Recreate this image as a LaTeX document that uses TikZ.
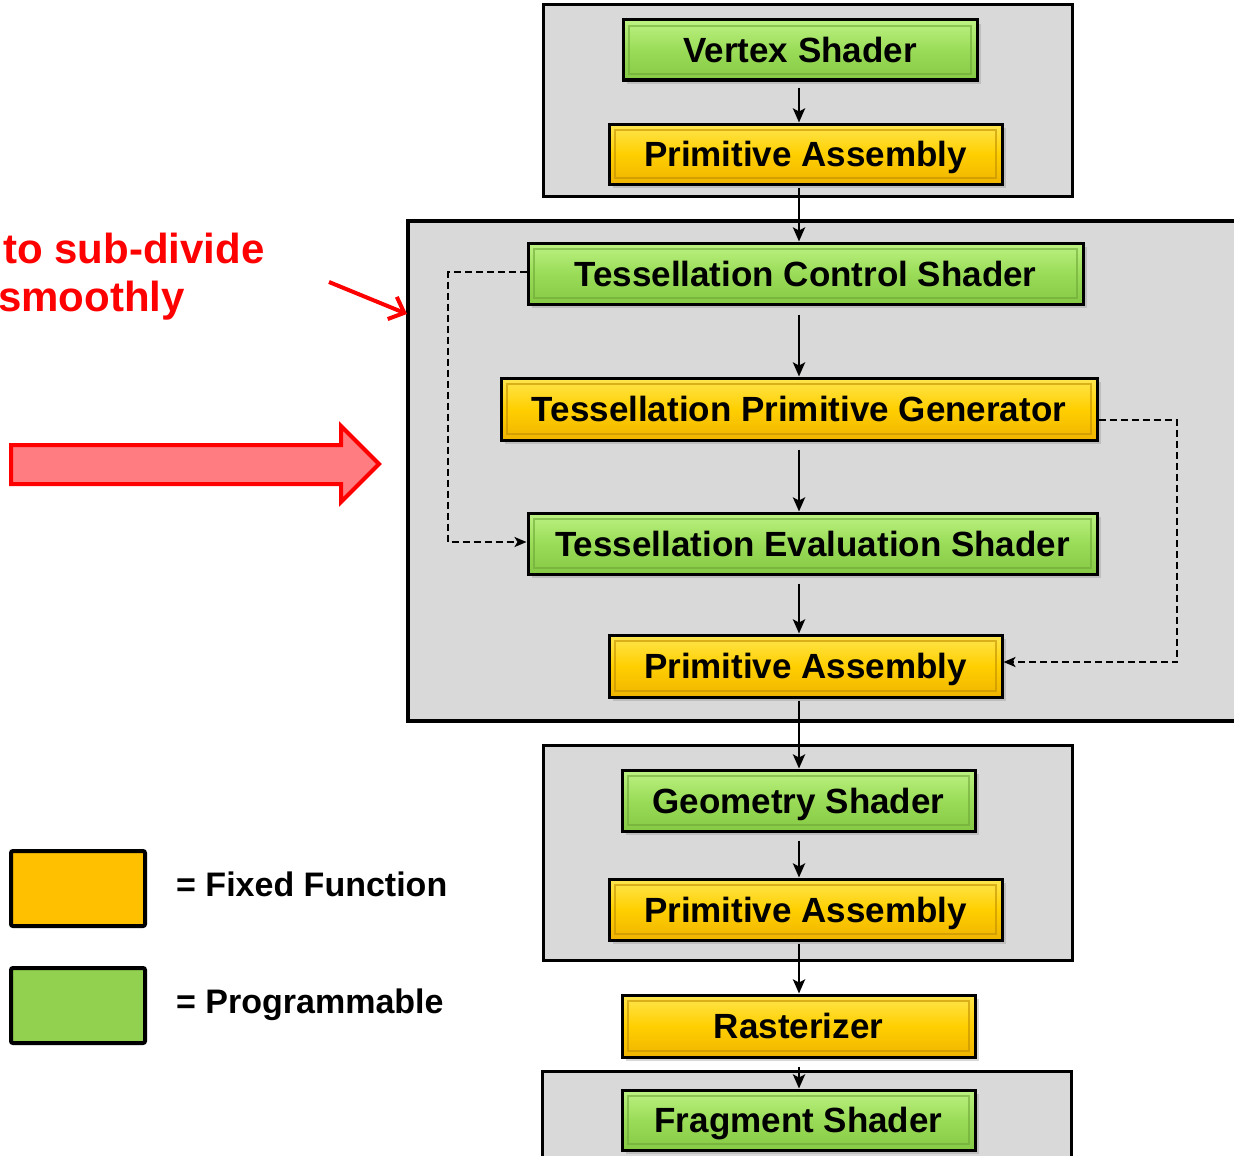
\documentclass[tikz,border=0pt]{standalone}
\usepackage{fontspec}
\setmainfont{Liberation Sans}
\usetikzlibrary{arrows.meta,shadows}
\definecolor{gfill}{HTML}{9ADC58}
\definecolor{gtop}{HTML}{BDF283}
\definecolor{gbot}{HTML}{86C944}
\definecolor{gbev}{HTML}{6FA838}
\definecolor{yfill}{HTML}{FFCF00}
\definecolor{ytop}{HTML}{FFE650}
\definecolor{ybot}{HTML}{F0B400}
\definecolor{ybev}{HTML}{C08E00}
\definecolor{panel}{HTML}{D9D9D9}
\definecolor{legy}{HTML}{FFC000}
\definecolor{legg}{HTML}{92D050}
\definecolor{redfill}{HTML}{FF7C80}
\definecolor{myred}{HTML}{FF0000}
\newcommand\stagefont{\fontsize{35}{40}\selectfont\bfseries}
\tikzset{
  stagebox/.style={draw=black, line width=3pt, inner sep=0pt,
    text height=25pt, text depth=0pt, font=\stagefont,
    drop shadow={shadow xshift=4pt, shadow yshift=-4pt, opacity=0.3}},
  prog/.style={stagebox, top color=gtop, bottom color=gbot, middle color=gfill,
    path picture={\draw[gbev, line width=1.2pt, opacity=0.6]
      ([shift={(6pt,-6pt)}]path picture bounding box.north west) rectangle
      ([shift={(-6pt,6pt)}]path picture bounding box.south east);}},
  fixed/.style={stagebox, top color=ytop, bottom color=ybot, middle color=yfill,
    path picture={\draw[ybev, line width=1.2pt, opacity=0.6]
      ([shift={(6pt,-6pt)}]path picture bounding box.north west) rectangle
      ([shift={(-6pt,6pt)}]path picture bounding box.south east);}},
  panelbox/.style={draw=black, fill=panel, line width=3pt, inner sep=0pt},
  flow/.style={line width=2.8pt, -{Stealth[length=14pt,width=12pt,inset=3pt]}, shorten <=6pt},
  dashflow/.style={line width=2.4pt, dash pattern=on 7pt off 4pt, -{Stealth[length=12pt,width=10pt,inset=3pt]}},
  legbox/.style={draw=black, line width=4pt, rounded corners=2pt, inner sep=0pt,
    minimum width=134pt, minimum height=75pt},
  legtext/.style={anchor=base west, inner sep=0pt, font=\fontsize{34}{40}\selectfont\bfseries},
  redtext/.style={anchor=base west, inner sep=0pt, text=myred, font=\fontsize{42}{48}\selectfont\bfseries}
}
\begin{document}
\begin{tikzpicture}[x=1pt, y=-1pt]
\useasboundingbox (0,0) rectangle (1234,1156);
\clip (0,0) rectangle (1234,1156);
\fill[white] (0,0) rectangle (1234,1156);

% container panels
\node[panelbox, minimum width=529pt, minimum height=191pt] (topbox) at (807.5,100.5) {};
\node[panelbox, line width=4pt, minimum width=842pt, minimum height=500pt] (tessbox) at (829,471) {};
\node[panelbox, minimum width=529pt, minimum height=215pt] (geobox) at (807.5,852.5) {};
\node[panelbox, minimum width=529pt, minimum height=109pt] (fragbox) at (806.5,1125.5) {};

% stages
\node[prog,  minimum width=354pt, minimum height=60pt] (vs)  at (800,50) {Vertex Shader};
\node[fixed, minimum width=393pt, minimum height=60pt] (pa1) at (805.5,154) {Primitive Assembly};
\node[prog,  minimum width=555pt, minimum height=61pt] (tcs) at (805.5,273.5) {Tessellation Control Shader};
\node[fixed, minimum width=596pt, minimum height=62pt] (tpg) at (799,409) {Tessellation Primitive Generator};
\node[prog,  minimum width=569pt, minimum height=61pt] (tes) at (812.5,543.5) {Tessellation Evaluation Shader};
\node[fixed, minimum width=393pt, minimum height=62pt] (pa2) at (805.5,666) {Primitive Assembly};
\node[prog,  minimum width=353pt, minimum height=61pt] (gs)  at (798.5,800.5) {Geometry Shader};
\node[fixed, minimum width=393pt, minimum height=61pt] (pa3) at (805.5,909.5) {Primitive Assembly};
\node[fixed, minimum width=353pt, minimum height=62pt] (ras) at (798.5,1026) {Rasterizer};
\node[prog,  minimum width=353pt, minimum height=60pt] (fs)  at (798.5,1120) {Fragment Shader};

% main flow
\coordinate (spine) at (799,0);
\draw[flow] (vs.south -| spine) -- (pa1.north -| spine);
\draw[flow, shorten <=2pt] (pa1.south -| spine) -- (tcs.north -| spine);
\draw[flow, shorten <=9pt] (tcs.south -| spine) -- (tpg.north -| spine);
\draw[flow, shorten <=8pt] (tpg.south -| spine) -- (tes.north -| spine);
\draw[flow, shorten <=8pt] (tes.south -| spine) -- (pa2.north -| spine);
\draw[flow, shorten <=2pt] (pa2.south -| spine) -- (gs.north -| spine);
\draw[flow, shorten <=8pt] (gs.south -| spine) -- (pa3.north -| spine);
\draw[flow, shorten <=2pt] (pa3.south -| spine) -- (ras.north -| spine);
\draw[flow, shorten <=8pt] (ras.south -| spine) -- (fs.north -| spine);

% dashed side paths
\coordinate (lx) at (448,400);
\coordinate (rx) at (1177,500);
\draw[dashflow] ([yshift=1.5pt]tcs.west) -| (lx) |- ([yshift=1.5pt]tes.west);
\draw[dashflow] ([yshift=-11pt]tpg.east) -| (rx) |- ([yshift=4pt]pa2.east);

% red annotations
\node[redtext] (t1) at (3,263) {to sub-divide};
\node[redtext] (t2) at (-2,311) {smoothly};
\coordinate (rs) at (329,282);
\coordinate (re) at (407,314);
\draw[myred, line width=4pt, -{Straight Barb[length=13pt,width=24pt]}] (rs) -- (re);
\draw[myred, fill=redfill, line width=4pt, line join=miter]
  (11,445) -- (341,445) -- (341,426) -- (379,464) -- (341,502) -- (341,484) -- (11,484) -- cycle;

% legend
\node[legbox, fill=legy] (ly) at (78,888.5) {};
\node[legbox, fill=legg] (lg) at (78,1005.5) {};
\node[legtext] (lyt) at (176,896) {= Fixed Function};
\node[legtext] (lgt) at (176,1013) {= Programmable};
\end{tikzpicture}
\end{document}
